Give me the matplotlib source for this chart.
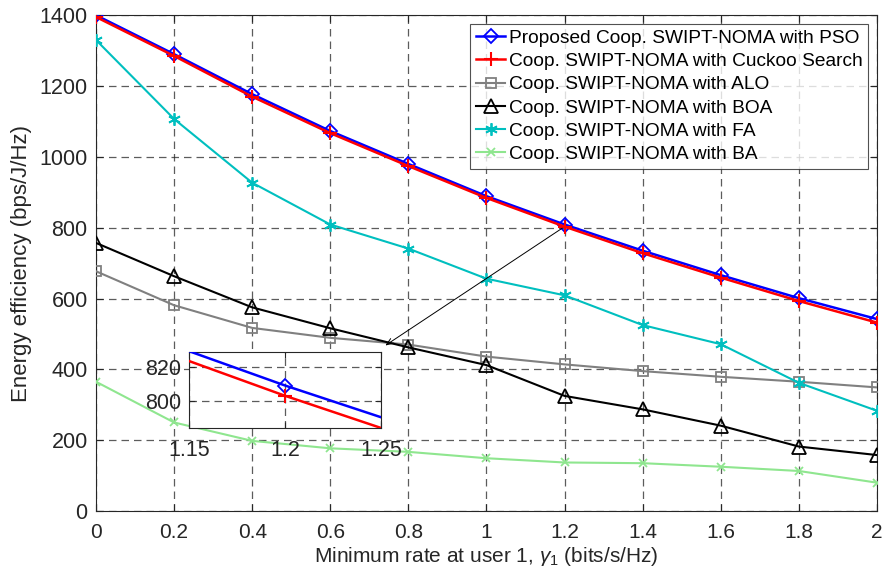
import matplotlib
matplotlib.use("Agg")
import matplotlib.pyplot as plt
import numpy as np

x = [0, 0.2, 0.4, 0.6, 0.8, 1.0, 1.2, 1.4, 1.6, 1.8, 2.0]
pso = [1400, 1290, 1177, 1073, 980, 889, 809, 735, 666, 601, 542]
cuckoo = [1395, 1285, 1170, 1067, 974, 884, 803, 728, 659, 593, 532]
alo = [677, 581, 517, 489, 470, 436, 414, 395, 379, 365, 349]
boa = [757, 663, 575, 516, 462, 412, 325, 287, 241, 182, 158]
fa = [1330, 1107, 927, 809, 741, 656, 609, 525, 471, 362, 283]
ba = [365, 250, 198, 177, 167, 149, 137, 135, 125, 113, 80]

labels = ["Proposed Coop. SWIPT-NOMA with PSO",
          "Coop. SWIPT-NOMA with Cuckoo Search",
          "Coop. SWIPT-NOMA with ALO",
          "Coop. SWIPT-NOMA with BOA",
          "Coop. SWIPT-NOMA with FA",
          "Coop. SWIPT-NOMA with BA"]
xticks = [0, 0.2, 0.4, 0.6, 0.8, 1, 1.2, 1.4, 1.6, 1.8, 2]
xticklabels = ["0", "0.2", "0.4", "0.6", "0.8", "1", "1.2", "1.4", "1.6", "1.8", "2"]
yticks = [0, 200, 400, 600, 800, 1000, 1200, 1400]

plt.rcParams['font.family'] = ['Liberation Sans', 'DejaVu Sans']
plt.rcParams['mathtext.fontset'] = 'custom'
plt.rcParams['mathtext.it'] = 'Liberation Sans:italic'
plt.rcParams['mathtext.rm'] = 'Liberation Sans'

fig = plt.figure(figsize=(8.84, 5.85), dpi=100)
ax = fig.add_axes([0.1086, 0.1265, 0.8834, 0.8475])

tc = (0.15, 0.15, 0.15)
cyan = (0.0, 0.75, 0.75)
lgreen = (0.56, 0.9, 0.56)
gray = (0.5, 0.5, 0.5)
aster = (6, 2, 0)

def draw(a, inset=False):
    a.plot(x, pso, color='blue', lw=1.8, marker='D', ms=7.5, mfc='none', mew=1.3, label=labels[0], zorder=6)
    a.plot(x, cuckoo, color='red', lw=1.8, marker='+', ms=10, mew=1.5, label=labels[1], zorder=7)
    if not inset:
        a.plot(x, alo, color=gray, lw=1.5, marker='s', ms=6.5, mfc='none', mew=1.3, label=labels[2], zorder=4)
        a.plot(x, boa, color='black', lw=1.5, marker='^', ms=10, mfc='none', mew=1.3, label=labels[3], zorder=5)
        a.plot(x, fa, color=cyan, lw=1.5, marker=aster, ms=9, mew=1.3, label=labels[4], zorder=4)
        a.plot(x, ba, color=lgreen, lw=1.5, marker='x', ms=6, mew=1.3, label=labels[5], zorder=4)

draw(ax)
ax.set_xlim(0, 2)
ax.set_ylim(0, 1400)
ax.set_xticks(xticks)
ax.set_xticklabels(xticklabels)
ax.set_yticks(yticks)
ax.tick_params(axis='x', labelsize=15, pad=9)
ax.tick_params(axis='y', labelsize=15.5, pad=6)
ax.tick_params(direction='in', top=True, right=True, colors=tc, labelcolor=tc, length=5)
ax.grid(True, linestyle=(0, (6, 4)), color=(0.15, 0.15, 0.15), lw=0.9, alpha=0.75)
for s in ax.spines.values():
    s.set_color(tc)
    s.set_linewidth(0.8)
ax.set_ylabel("Energy efficiency (bps/J/Hz)", fontsize=16, color=tc, labelpad=5)
ax.set_xlabel(r"Minimum rate at user 1, $\gamma_1$ (bits/s/Hz)", fontsize=15, color=tc, labelpad=2)

leg = ax.legend(loc='upper right', fontsize=13.8, frameon=True, fancybox=False,
                edgecolor=tc, handlelength=1.5, handletextpad=0.2, labelspacing=0.3,
                borderpad=0.3, borderaxespad=0.45)
leg.get_frame().set_linewidth(0.8)

# arrow from point to inset
ax.annotate("", xy=(0.735, 463), xytext=(1.2, 803),
            arrowprops=dict(arrowstyle='->,head_length=0.5,head_width=0.2', color='black', lw=0.7),
            zorder=8)

ins = fig.add_axes([0.2141, 0.2689, 0.2169, 0.1289])
draw(ins, inset=True)
ins.set_xlim(1.15, 1.25)
ins.set_ylim(784.4, 828.4)
ins.set_xticks([1.15, 1.2, 1.25])
ins.set_xticklabels(["1.15", "1.2", "1.25"])
ins.set_yticks([800, 820])
ins.tick_params(direction='in', labelsize=15.5, colors=tc, labelcolor=tc, length=4, top=True, right=True)
ins.tick_params(axis='x', pad=9)
ins.tick_params(axis='y', pad=6)
ins.grid(True, linestyle=(0, (6, 4)), color=(0.15, 0.15, 0.15), lw=0.9, alpha=0.75)
for s in ins.spines.values():
    s.set_color(tc)
    s.set_linewidth(0.8)

fig.savefig("out.png", dpi=100)
